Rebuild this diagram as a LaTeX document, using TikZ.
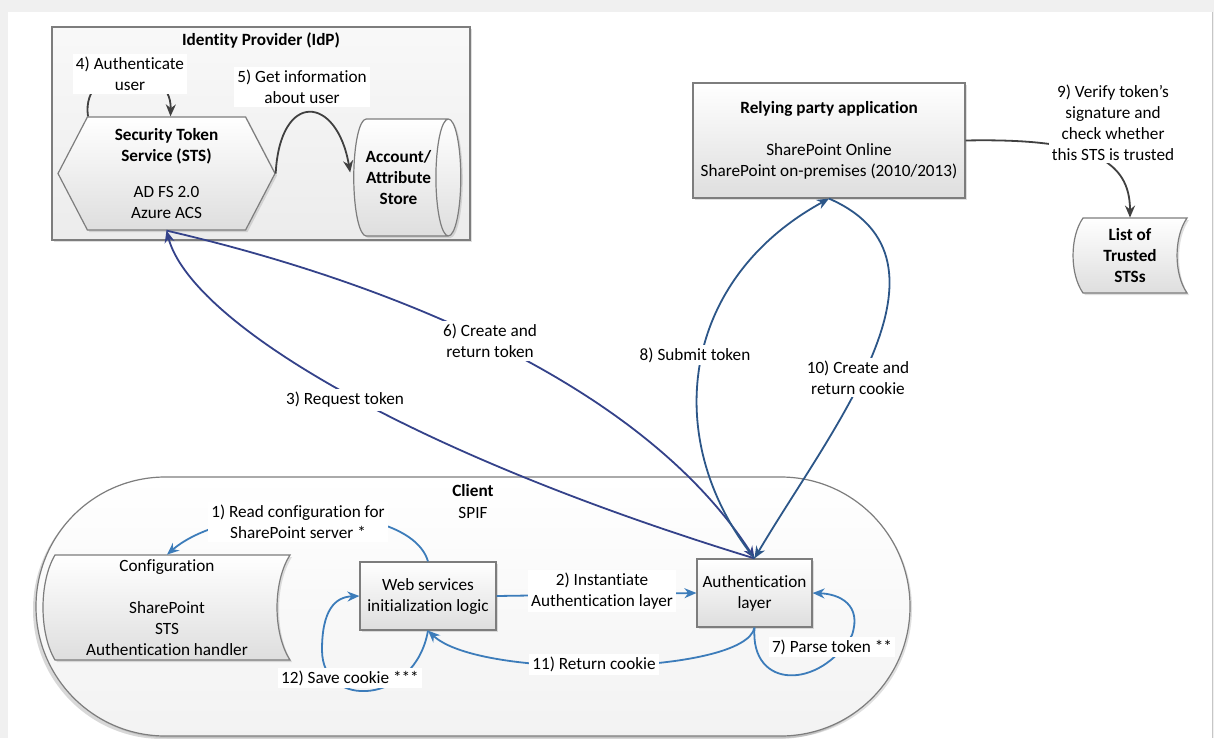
\documentclass[tikz,border=0pt]{standalone}
\usepackage{fontspec}
\setmainfont{Carlito}[Ligatures=NoCommon]
\usetikzlibrary{shapes.geometric,shapes.symbols,arrows.meta,calc,shadows}

\definecolor{pagegrey}{RGB}{240,240,240}
\definecolor{boxline}{RGB}{125,125,125}
\definecolor{boxlow}{RGB}{222,222,222}
\definecolor{arrowgrey}{RGB}{64,64,64}
\definecolor{tokenblue}{RGB}{52,66,138}
\definecolor{cookieblue}{RGB}{44,86,136}
\definecolor{clientblue}{RGB}{60,124,186}

\tikzset{
  box/.style={draw=boxline, line width=0.6pt, top color=white, bottom color=boxlow,
    align=center, inner sep=2pt,
    drop shadow={shadow xshift=1pt, shadow yshift=-1pt, opacity=0.25}},
  plain/.style={align=center, inner sep=0pt},
  lbl/.style={fill=white, align=center, inner sep=1.5pt},
  greyline/.style={draw=arrowgrey, line width=0.9pt, -{Stealth[length=6pt,width=5pt]}},
  tokenline/.style={draw=tokenblue, line width=0.9pt, -{Stealth[length=6pt,width=5pt]}},
  cookieline/.style={draw=cookieblue, line width=0.9pt, -{Stealth[length=6pt,width=5pt]}},
  clientline/.style={draw=clientblue, line width=0.9pt, -{Stealth[length=6pt,width=5pt]}}
}

\begin{document}
\begin{tikzpicture}[x=0.5pt, y=-0.5pt, font=\fontsize{8.6}{10.5}\selectfont]
  % page
  \fill[pagegrey] (0,0) rectangle (1214,738);
  \fill[white] (8,12) rectangle (1212,738);
  \draw[gray!45] (1212,12) -- (1212,738);
  \useasboundingbox (0,0) rectangle (1214,738);

  % containers
  \node[box, rounded corners=64.7pt, minimum width=437pt, minimum height=129.5pt,
    bottom color=gray!10,
    drop shadow={shadow xshift=-1.5pt, shadow yshift=-1.5pt, opacity=0.3}] (client) at (473,606.5) {};
  \node[font=\fontsize{8.6}{10.5}\selectfont\bfseries] (clienttitle) at (473,491) {Client};
  \node (spif) at (473,513) {SPIF};

  \node[box, minimum width=209pt, minimum height=106.5pt, top color=gray!5, bottom color=gray!15] (idp) at (261,133.5) {};
  \node[font=\fontsize{8.6}{10.5}\selectfont\bfseries] (idptitle) at (261,40) {Identity Provider (IdP)};

  % identity provider
  \node[box, signal, signal to=west and east, signal pointer angle=125,
    minimum width=108.5pt, minimum height=56.5pt] (sts) at (166.5,173.5)
    {\textbf{Security Token}\\\textbf{Service (STS)}\\[7.5pt]AD FS 2.0\\Azure ACS};
  \node[box, cylinder, aspect=0.4, minimum width=58.5pt, minimum height=36.5pt,
    font=\fontsize{8.6}{10.5}\selectfont\bfseries] (store) at (398.5,177.5) {Account/\\Attribute\\Store};

  % relying party
  \node[box, minimum width=136pt, minimum height=57.5pt] (rp) at (829,140.5)
    {\textbf{Relying party application}\\[10.5pt]SharePoint Online\\SharePoint on-premises (2010/2013)};
  \draw[box] (1083,218) -- (1187,218) .. controls (1173.7,237) and (1173.7,274) .. (1187,293)
    -- (1083,293) .. controls (1069.7,274) and (1069.7,237) .. (1083,218) -- cycle;
  \node[plain, minimum width=52pt, minimum height=37.5pt,
    font=\fontsize{8.6}{10.5}\selectfont\bfseries] (trusted) at (1130,255.5) {List of\\Trusted\\STSs};

  % client
  \draw[box] (55,555) -- (290,555) .. controls (272.7,582) and (272.7,633) .. (290,660)
    -- (55,660) .. controls (39,633) and (39,582) .. (55,555) -- cycle;
  \node[plain, minimum width=110pt, minimum height=52.5pt] (config) at (167,607.5)
    {Configuration\\[10.5pt]SharePoint\\STS\\Authentication handler};
  \node[box, minimum width=68pt, minimum height=34pt] (web) at (428,596) {Web services\\initialization logic};
  \node[box, minimum width=57.5pt, minimum height=34pt] (auth) at (754.5,593) {Authentication\\layer};

  % connectors
  \draw[greyline] ($(sts.north)+(-78.5,0)$) .. controls (80,60) and (172,60) .. ($(sts.north)+(4,0)$);
  \draw[greyline] (sts.east) .. controls (280,90) and (337,95) .. ($(store.west)+(-3,-5)$);
  \draw[greyline] (rp.east) .. controls (1090,138) and (1130,160) .. (trusted.north);

  \draw[tokenline] (auth.north) .. controls (400,450) and (190,320) .. (sts.south);
  \draw[tokenline] (sts.south) .. controls (380,280) and (640,380) .. (auth.north);
  \draw[cookieline] (auth.north) .. controls (660,440) and (680,280) .. (rp.south);
  \draw[cookieline] (rp.south) .. controls (970,260) and (830,430) .. (auth.north);

  \draw[clientline] (web.north) .. controls (410,500) and (230,500) .. (config.north);
  \draw[clientline] (web.east) -- (auth.west);
  \draw[clientline] (auth.south) .. controls (750,690) and (820,690) .. (852,635)
    .. controls (862,605) and (840,594) .. (auth.east);
  \draw[clientline] (auth.south) .. controls (745,675) and (480,680) .. (web.south);
  \draw[clientline] (web.south) .. controls (415,705) and (322,710) .. (322,650)
    .. controls (322,610) and (335,597) .. (web.west);

  % labels
  \node[lbl] (l4) at (130,74) {4) Authenticate\\user};
  \node[lbl] (l5) at (302,87) {5) Get information\\about user};
  \node[lbl] (l9) at (1113,122.5) {9) Verify token’s\\signature and\\check whether\\this STS is trusted};
  \node[lbl] (l3) at (345,400) {3) Request token};
  \node[lbl] (l6) at (490,341) {6) Create and\\return token};
  \node[lbl] (l8) at (695,355) {8) Submit token};
  \node[lbl] (l10) at (858,377.5) {10) Create and\\return cookie};
  \node[lbl] (l1) at (298,522) {1) Read configuration for\\SharePoint server *};
  \node[lbl] (l2) at (602,591) {2) Instantiate\\Authentication layer};
  \node[lbl] (l11) at (594,664.5) {11) Return cookie};
  \node[lbl] (l7) at (832,647) {7) Parse token **};
  \node[lbl] (l12) at (350,678) {12) Save cookie ***};
\end{tikzpicture}
\end{document}
